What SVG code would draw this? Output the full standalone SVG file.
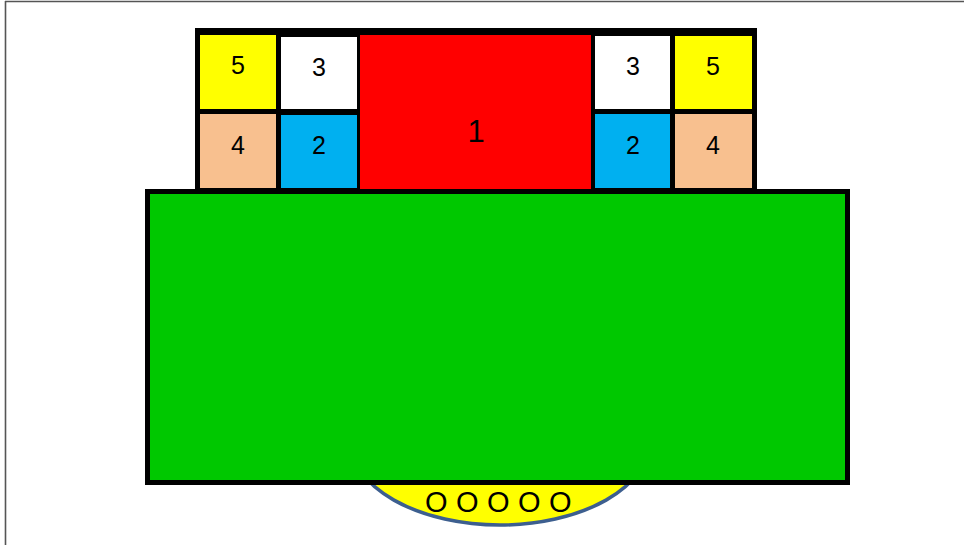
<svg xmlns="http://www.w3.org/2000/svg" width="964" height="545" viewBox="0 0 964 545">
<style>
.lbl{font-family:"Liberation Sans","DejaVu Sans",sans-serif;font-size:25px;fill:#000;text-anchor:middle}
.big{font-size:31px}
</style>
<rect x="0" y="0" width="964" height="545" fill="#fff"/>
<g id="frame" fill="none" stroke="#555" stroke-width="1.6">
<line x1="5" y1="1.5" x2="964" y2="1.5"/>
<line x1="5.5" y1="1" x2="5.5" y2="545"/>
</g>
<g id="bowl">
<ellipse cx="500" cy="440" rx="150" ry="85" fill="#ffff00" stroke="#3d5f8f" stroke-width="3.5"/>
<text class="lbl" x="425" y="512" style="text-anchor:start;font-size:29px;letter-spacing:0.2px">O O O O O</text>
</g>
<g id="base">
<rect x="147.5" y="191.5" width="700" height="291" fill="#00c800" stroke="#000" stroke-width="5"/>
</g>
<g id="block-frame">
<rect x="195" y="28" width="562" height="162" fill="#000"/>
</g>
<g id="n1"><rect x="360" y="35" width="231" height="154" fill="#ff0000"/><text class="lbl big" x="476" y="142">1</text></g>
<g id="n5L"><rect x="200" y="35" width="76" height="74" fill="#ffff00"/><text class="lbl" x="238" y="74">5</text></g>
<g id="n3L"><rect x="281" y="37" width="76" height="72" fill="#ffffff"/><text class="lbl" x="319" y="76">3</text></g>
<g id="n4L"><rect x="200" y="114" width="76" height="74" fill="#f8c08f"/><text class="lbl" x="238" y="154">4</text></g>
<g id="n2L"><rect x="281" y="115" width="76" height="73" fill="#00b0f0"/><text class="lbl" x="319" y="154">2</text></g>
<g id="n3R"><rect x="595" y="36" width="75" height="73" fill="#ffffff"/><text class="lbl" x="633" y="74.5">3</text></g>
<g id="n5R"><rect x="675" y="36" width="77" height="73" fill="#ffff00"/><text class="lbl" x="713" y="74.5">5</text></g>
<g id="n2R"><rect x="595" y="114" width="75" height="74" fill="#00b0f0"/><text class="lbl" x="633" y="154">2</text></g>
<g id="n4R"><rect x="675" y="114" width="77" height="74" fill="#f8c08f"/><text class="lbl" x="713" y="154">4</text></g>
<g id="connectors"></g>
</svg>
